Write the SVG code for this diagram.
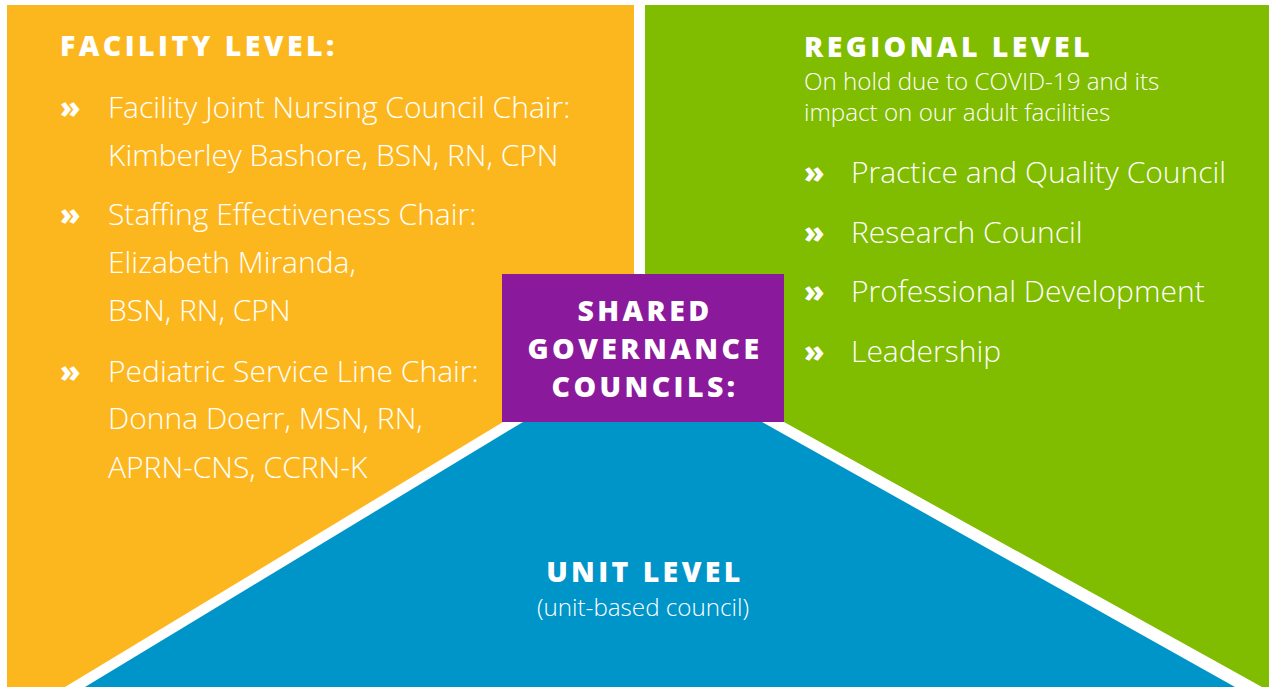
<svg xmlns="http://www.w3.org/2000/svg" width="1269" height="687" viewBox="0 0 1269 687">
<style>
.h{font-family:"Open Sans","Liberation Sans",sans-serif;font-weight:800;fill:#fff;letter-spacing:3.4px;font-size:28.5px}
.b{font-family:"Open Sans","Liberation Sans",sans-serif;font-weight:300;fill:#fff;font-size:30px}
.s{font-family:"Open Sans","Liberation Sans",sans-serif;font-weight:300;fill:#fff;font-size:24.2px}
.bul{font-family:"Open Sans","Liberation Sans",sans-serif;font-weight:800;fill:#fff;font-size:30px}
</style>
<rect x="0" y="0" width="1269" height="687" fill="#fff"/>
<g id="facility">
<polygon points="7,5 634,5 634,422 503,422 65,687 7,687" fill="#FDB71E"/>
<text class="h" x="60" y="56">FACILITY LEVEL:</text>
<text class="bul" x="60" y="118">»</text>
<text class="b" x="108" y="118">Facility Joint Nursing Council Chair:</text>
<text class="b" x="108" y="166">Kimberley Bashore, BSN, RN, CPN</text>
<text class="bul" x="60" y="225">»</text>
<text class="b" x="108" y="225">Staffing Effectiveness Chair:</text>
<text class="b" x="108" y="273">Elizabeth Miranda,</text>
<text class="b" x="108" y="321">BSN, RN, CPN</text>
<text class="bul" x="60" y="382">»</text>
<text class="b" x="108" y="382">Pediatric Service Line Chair:</text>
<text class="b" x="108" y="429">Donna Doerr, MSN, RN,</text>
<text class="b" x="108" y="478">APRN-CNS, CCRN-K</text>
</g>
<g id="regional">
<polygon points="645,5 1269,5 1269,687 1262,687 784,422 645,422" fill="#80BC00"/>
<text class="h" x="804" y="57">REGIONAL LEVEL</text>
<text class="s" x="804" y="90">On hold due to COVID-19 and its</text>
<text class="s" x="804" y="121">impact on our adult facilities</text>
<text class="bul" x="804" y="183">»</text>
<text class="b" x="851" y="183">Practice and Quality Council</text>
<text class="bul" x="804" y="243">»</text>
<text class="b" x="851" y="243">Research Council</text>
<text class="bul" x="804" y="302">»</text>
<text class="b" x="851" y="302">Professional Development</text>
<text class="bul" x="804" y="362">»</text>
<text class="b" x="851" y="362">Leadership</text>
</g>
<g id="unit">
<polygon points="523,422 762,422 1235,687 85,687" fill="#0095C9"/>
<text class="h" x="645" y="582" text-anchor="middle">UNIT LEVEL</text>
<text class="s" x="643" y="616" text-anchor="middle">(unit-based council)</text>
</g>
<g id="shared">
<rect x="502" y="274" width="282" height="148" fill="#8A1A9B"/>
<text class="h" x="645" y="321" text-anchor="middle">SHARED</text>
<text class="h" x="645" y="359" text-anchor="middle">GOVERNANCE</text>
<text class="h" x="645" y="397" text-anchor="middle">COUNCILS:</text>
</g>
<g id="connectors"></g>
</svg>
